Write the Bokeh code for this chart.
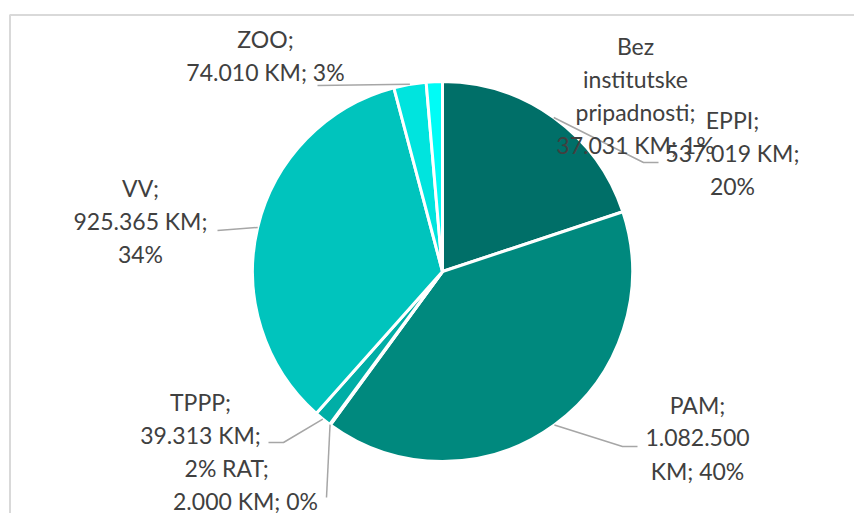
import math
from bokeh.plotting import figure
from bokeh.models import Range1d
from bokeh.core.properties import value
from bokeh.embed import file_html
from bokeh.resources import INLINE

# ---- data ----
names = ["EPPI", "PAM", "RAT", "TPPP", "VV", "ZOO", "Bez institutske pripadnosti"]
values = [537019, 1082500, 2000, 39313, 925365, 74010, 37031]
percents = [20, 40, 0, 2, 34, 3, 1]
colors = ["#006F68", "#00897E", "#009E95", "#00AEA6", "#00C4BD", "#00E4DE", "#00FCF6"]
label_lines = [
    ["EPPI;", "537.019 KM;", "20%"],
    ["PAM;", "1.082.500", "KM; 40%"],
    ["RAT;", "2.000 KM; 0%"],
    ["TPPP;", "39.313 KM;", "2%"],
    ["VV;", "925.365 KM;", "34%"],
    ["ZOO;", "74.010 KM; 3%"],
    ["Bez", "institutske", "pripadnosti;", "37.031 KM; 1%"],
]

W, H = 854, 513
def sx(X):  # picture px -> data
    return X
def sy(Y):
    return H - Y

p = figure(width=W, height=H, output_backend="svg", toolbar_location=None,
           x_range=Range1d(0, W), y_range=Range1d(0, H), min_border=0)
p.axis.visible = False
p.grid.visible = False
p.outline_line_color = None
p.background_fill_color = "white"
p.border_fill_color = "white"

# frame
p.line([sx(9.5), sx(9.5), sx(900)], [sy(600), sy(14.5), sy(14.5)],
       line_color="#D9D9D9", line_width=2)

cx, cy, R = sx(442), sy(271), 190
total = sum(values)
starts, ends, mids = [], [], []
cum = 0
for v in values:
    a0 = math.pi / 2 - 2 * math.pi * cum / total
    cum += v
    a1 = math.pi / 2 - 2 * math.pi * cum / total
    starts.append(a0)
    ends.append(a1)
    mids.append((a0 + a1) / 2)

p.wedge(x=[cx] * len(values), y=[cy] * len(values), radius=R,
        start_angle=starts, end_angle=ends, direction="clock",
        fill_color=colors, line_color="white", line_width=3)

leaders = {
    0: [(643, 162), (658, 162)],
    1: [(622, 446), (637, 446)],
    2: [(326, 497)],
    3: [(283, 442), (268, 442)],
    4: [(217, 230)],
    5: [(317, 85)],
}
for i, pts in leaders.items():
    xs = [cx + R * math.cos(mids[i])] + [sx(a) for a, b in pts]
    ys = [cy + R * math.sin(mids[i])] + [sy(b) for a, b in pts]
    p.line(xs, ys, line_color="#A6A6A6", line_width=1.5)

label_pos = [(732, 119), (697, 404), (245, 467), (200, 401), (140, 187), (265, 38), (635, 45)]
spacing = 33
tx, ty, tt = [], [], []
for lines, (X, Y) in zip(label_lines, label_pos):
    for k, t in enumerate(lines):
        tx.append(sx(X))
        ty.append(sy(Y + k * spacing))
        tt.append(t)
p.text(x=tx, y=ty, text=tt, text_align="center", text_baseline="middle",
       text_font=value("Lato"), text_font_size="23px", text_color="#404040")

open("out.html", "w").write(file_html(p, INLINE))
